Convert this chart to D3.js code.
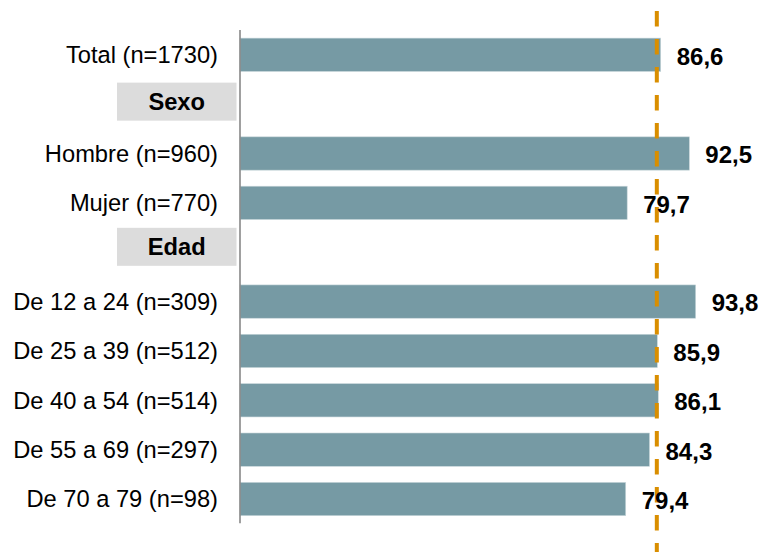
<!DOCTYPE html>
<html><head><meta charset="utf-8">
<script src="https://cdn.jsdelivr.net/npm/d3@7"></script>
<style>html,body{margin:0;padding:0;background:#fff;}svg{display:block;}</style>
</head><body>
<script>
const categories = ["Total (n=1730)","Sexo","Hombre (n=960)","Mujer (n=770)","Edad","De 12 a 24 (n=309)","De 25 a 39 (n=512)","De 40 a 54 (n=514)","De 55 a 69 (n=297)","De 70 a 79 (n=98)"];
const headers = ["Sexo","Edad"];
const values = [86.6, null, 92.5, 79.7, null, 93.8, 85.9, 86.1, 84.3, 79.4];
const valueLabels = ["86,6", "", "92,5", "79,7", "", "93,8", "85,9", "86,1", "84,3", "79,4"];
const referenceValue = 85.8;

const W = 762, H = 552;
const svg = d3.select("body").append("svg").attr("width", W).attr("height", H);
const font = "'Liberation Sans', Arial, Helvetica, sans-serif";

const x = d3.scaleLinear().domain([0, 100]).range([240, 725.8]);
const y = d3.scaleBand().domain(categories).range([30.1, 523.7]).paddingInner(0.325).paddingOuter(0.1625);
const headerShift = {"Sexo": -2.5, "Edad": -5.4};

const rows = categories.map((c, i) => ({cat: c, v: values[i], lab: valueLabels[i], header: headers.includes(c)}));

// header boxes
const hdr = svg.append("g");
rows.filter(d => d.header).forEach(d => {
  const cy = y(d.cat) + y.bandwidth() / 2 + (headerShift[d.cat] || 0);
  hdr.append("rect").attr("x", 117).attr("y", cy - 19).attr("width", 119.5).attr("height", 38).attr("fill", "#dcdcdc");
  hdr.append("text").attr("x", 176.7).attr("y", cy).attr("dy", "0.35em").attr("text-anchor", "middle")
    .attr("font-family", font).attr("font-size", "23.7px").attr("font-weight", "bold").attr("fill", "#000").text(d.cat);
});

// bars
const data = rows.filter(d => !d.header);
svg.append("g").selectAll("rect").data(data).join("rect")
  .attr("x", x(0)).attr("y", d => y(d.cat))
  .attr("width", d => x(d.v) - x(0)).attr("height", y.bandwidth())
  .attr("fill", "#769aa4").attr("stroke", "#c9d7db").attr("stroke-width", 0.6);

// category labels
svg.append("g").selectAll("text").data(data).join("text")
  .attr("x", 218).attr("y", d => y(d.cat) + y.bandwidth() / 2).attr("dy", "0.35em")
  .attr("text-anchor", "end").attr("font-family", font).attr("font-size", "23.7px").attr("fill", "#000")
  .text(d => d.cat);

// axis line
svg.append("line").attr("x1", x(0)).attr("x2", x(0)).attr("y1", 30).attr("y2", 523.3)
  .attr("stroke", "#888").attr("stroke-width", 1.6);

// reference dashed line
svg.append("line").attr("x1", x(referenceValue)).attr("x2", x(referenceValue)).attr("y1", 11).attr("y2", H)
  .attr("stroke", "#d98e00").attr("stroke-width", 4).attr("stroke-dasharray", "15.5,12.5");

// value labels
svg.append("g").selectAll("text").data(data).join("text")
  .attr("x", d => x(d.v) + 16).attr("y", d => y(d.cat) + y.bandwidth() / 2 + 1.5).attr("dy", "0.35em")
  .attr("font-family", font).attr("font-size", "24px").attr("font-weight", "bold").attr("fill", "#000")
  .text(d => d.lab);
</script>
</body></html>
